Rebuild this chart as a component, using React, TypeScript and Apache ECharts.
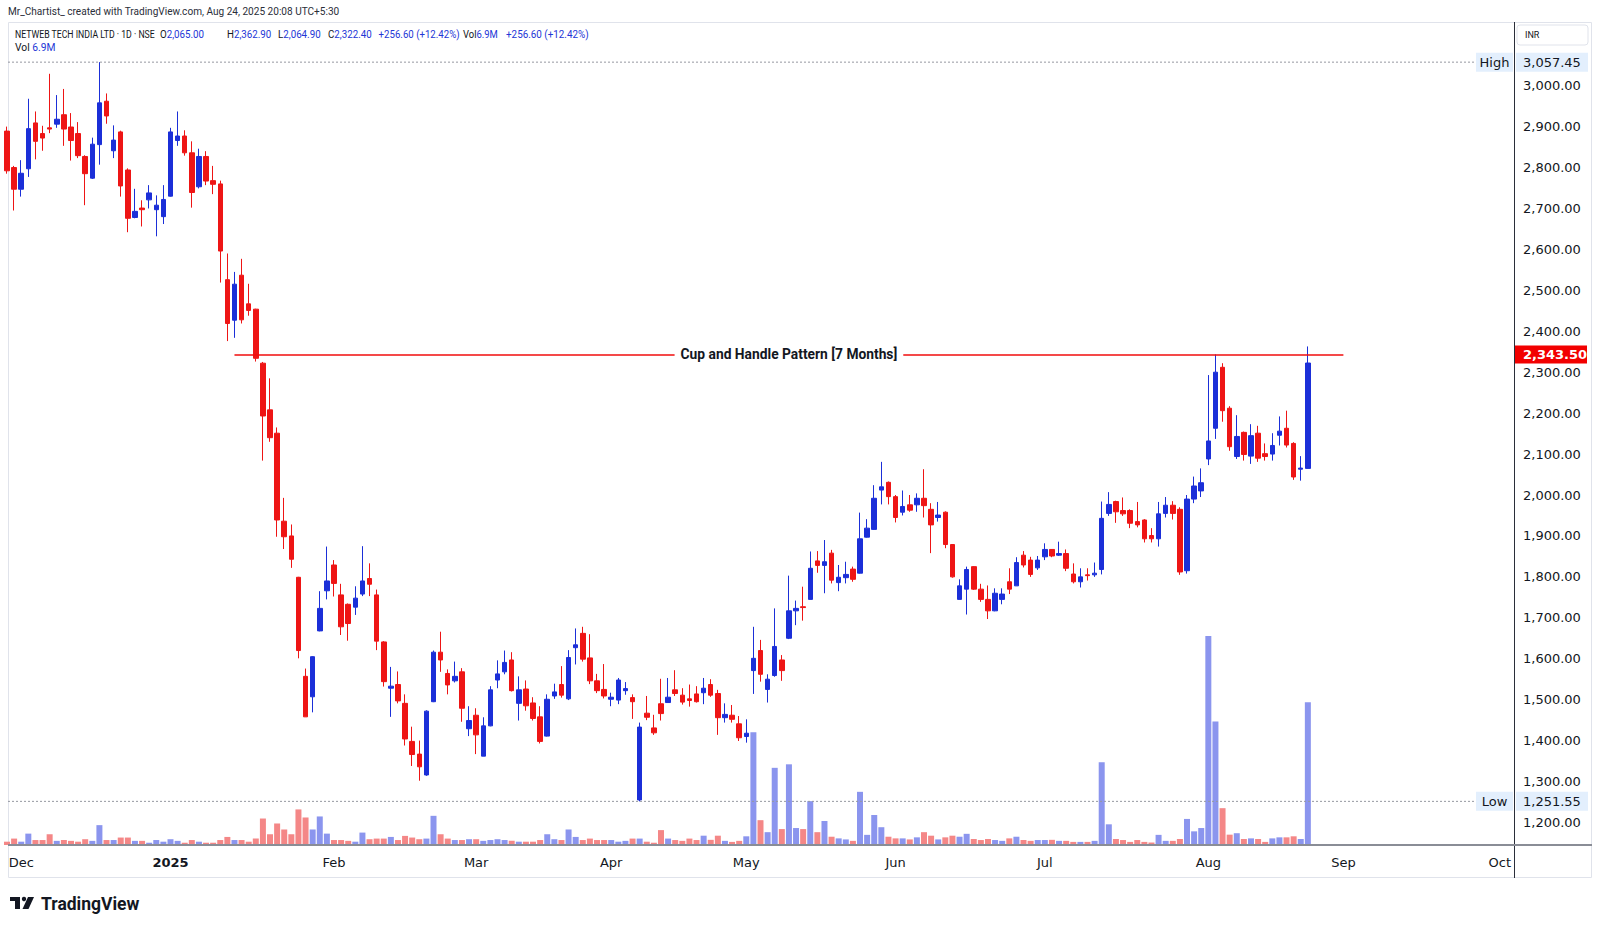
import React, { useEffect, useRef } from 'react';
import * as echarts from 'echarts';

// ---- OHLC data: [open, close, low, high] per trading day ----
const novBars = [[2889,2792,2785,2900],[2800,2747,2695,2804]];
const decBars = [
  [2747,2786,2729,2818],[2797,2895,2777,2968],[2909,2864,2820,2937],[2883,2872,2841,2902],
  [2897,2894,2884,3029],[2906,2918,2897,2977],[2929,2894,2853,2992],[2899,2866,2817,2933],
  [2883,2829,2823,2911],[2827,2785,2708,2830],[2774,2857,2772,2873],[2856,2958,2807,3057.45],
  [2962,2926,2907,2981],[2841,2867,2823,2903],[2887,2755,2729,2890],[2794,2676,2642,2798],
  [2678,2693,2676,2748],[2701,2697,2656,2720],[2721,2738,2700,2757],[2697,2708,2632,2732],
  [2680,2722,2662,2757]];
const janBars = [
  [2730,2887,2729,2897],[2866,2877,2853,2937],[2877,2836,2829,2891],[2836,2739,2702,2864],
  [2753,2827,2749,2846],[2827,2767,2757,2840],[2768,2759,2735,2804],[2760,2596,2519,2768],
  [2526,2419,2376,2590],[2427,2515,2384,2545],[2537,2428,2419,2577],[2467,2451,2438,2516],
  [2454,2334,2326,2455],[2322,2193,2084,2325],[2208,2140,2130,2285],[2151,1939,1898,2165],
  [1936,1898,1868,1993],[1900,1843,1822,1928],[1799,1620,1601,1800],[1557,1458,1458,1576],
  [1507,1605,1469,1606],[1668,1723,1667,1765],[1766,1790,1745,1874]];
const febBars = [
  [1829,1784,1752,1841],[1756,1678,1658,1783],[1733,1686,1644,1735],[1726,1748,1707,1777],
  [1758,1790,1753,1875],[1796,1782,1753,1833],[1756,1643,1621,1769],[1641,1544,1532,1643],
  [1528,1533,1458,1580],[1537,1497,1491,1569],[1491,1404,1388,1513],[1398,1366,1338,1434],
  [1367,1336,1302,1400],[1316,1472,1314,1474],[1495,1616,1494,1620],[1616,1597,1568,1666],
  [1564,1536,1513,1574],[1546,1557,1542,1593],[1568,1479,1446,1577],[1429,1449,1411,1484]];
const marBars = [
  [1462,1414,1367,1479],[1362,1436,1362,1457],[1436,1524,1435,1533],[1548,1563,1528,1596],
  [1568,1591,1562,1620],[1597,1522,1520,1616],[1491,1524,1449,1557],[1526,1485,1473,1547],
  [1492,1454,1449,1506],[1458,1398,1393,1484],[1411,1501,1410,1513],[1509,1519,1502,1539],
  [1537,1511,1505,1582],[1502,1603,1499,1621],[1627,1634,1586,1674],[1662,1599,1593,1678],
  [1602,1546,1538,1660],[1546,1522,1516,1563],[1525,1509,1503,1587]];
const aprBars = [
  [1501,1506,1484,1517],[1499,1548,1489,1553],[1522,1527,1512,1543],[1505,1495,1453,1513],
  [1255,1433,1251.55,1444],[1467,1457,1450,1509],[1431,1419,1414,1463],[1490,1466,1449,1551],
  [1493,1506,1493,1553],[1524,1515,1509,1572],[1511,1494,1488,1528],[1502,1498,1483,1537],
  [1514,1495,1493,1533],[1517,1528,1489,1553],[1537,1511,1507,1550],[1515,1456,1414,1524],
  [1456,1464,1444,1491],[1462,1452,1444,1487],[1441,1407,1399,1460]];
const mayBars = [
  [1410,1418,1395,1452],[1571,1601,1514,1678],[1620,1562,1544,1646],[1525,1550,1493,1562],
  [1559,1630,1556,1723],[1597,1571,1546,1609],[1650,1717,1648,1803],[1717,1723,1682,1742],
  [1727,1725,1693,1776],[1745,1821,1745,1862],[1839,1828,1810,1863],[1828,1837,1760,1890],
  [1858,1792,1784,1866],[1786,1799,1765,1829],[1798,1806,1784,1837],[1819,1794,1788,1825],
  [1809,1893,1808,1957],[1897,1919,1896,1941],[1916,1992,1915,2024],[2012,2020,1977,2081],
  [2031,1996,1977,2033]];
const junBars = [
  [1996,1945,1933,2000],[1958,1972,1950,2011],[1976,1963,1959,2000],[1976,1992,1959,2004],
  [1992,1974,1945,2063],[1965,1927,1858,1980],[1945,1951,1935,1983],[1958,1879,1870,1960],
  [1879,1800,1798,1880],[1745,1778,1745,1794],[1770,1818,1708,1825],[1825,1770,1768,1826],
  [1770,1745,1739,1783],[1745,1717,1697,1779],[1717,1760,1716,1772],[1745,1758,1733,1772],
  [1788,1770,1758,1821],[1778,1835,1778,1848],[1853,1829,1823,1863],[1841,1806,1800,1849],
  [1822,1841,1817,1851]];
const julBars = [
  [1849,1867,1841,1882],[1867,1851,1848,1868],[1853,1857,1851,1886],[1857,1821,1814,1867],
  [1807,1788,1784,1833],[1788,1800,1774,1821],[1805,1803,1791,1821],[1805,1809,1800,1835],
  [1818,1943,1806,1984],[1955,1977,1949,2007],[1984,1959,1932,1986],[1962,1954,1949,1994],
  [1962,1931,1919,1965],[1935,1927,1921,1983],[1939,1893,1884,1941],[1901,1893,1884,1919],
  [1893,1954,1874,1983],[1955,1975,1945,1995],[1975,1955,1940,1985],[1965,1812,1805,1970],
  [1815,1990,1808,2000],[1990,2022,1980,2045],[2010,2030,1995,2065]];
const augBars = [
  [2088,2132,2073,2293],[2163,2300,2137,2343.5],[2312,2206,2179,2322],[2212,2118,2108,2217],
  [2094,2143,2088,2195],[2153,2099,2084,2155],[2095,2145,2076,2173],[2151,2090,2081,2169],
  [2101,2094,2084,2126],[2100,2121,2084,2151],[2146,2156,2121,2192],[2163,2122,2116,2206],
  [2126,2044,2037,2129],[2063,2065.8,2035,2095],[2065,2322.4,2064.9,2362.9]];

// ---- Volume (millions) ----
const novVol = [0.16,0.31];
const decVol = [0.16,0.55,0.24,0.24,0.52,0.2,0.24,0.2,0.16,0.28,0.2,0.96,0.24,0.24,0.36,0.36,0.2,0.2,0.11,0.24,0.16];
const janVol = [0.28,0.2,0.11,0.24,0.16,0.11,0.11,0.24,0.39,0.24,0.24,0.16,0.31,1.28,0.52,1.04,0.75,0.52,1.72,1.33,0.75,1.38,0.55];
const febVol = [0.24,0.24,0.2,0.16,0.6,0.28,0.31,0.31,0.39,0.24,0.44,0.36,0.28,0.31,1.41,0.52,0.31,0.24,0.24,0.28];
const marVol = [0.28,0.2,0.24,0.28,0.24,0.2,0.16,0.16,0.16,0.24,0.52,0.28,0.24,0.75,0.39,0.24,0.31,0.24,0.24];
const aprVol = [0.24,0.16,0.2,0.31,0.31,0.16,0.11,0.72,0.31,0.24,0.2,0.31,0.24,0.45,0.25,0.45,0.2,0.15,0.2];
const mayVol = [0.42,5.45,1.2,0.62,3.73,0.77,3.9,0.82,0.77,2.12,0.62,1.16,0.4,0.32,0.27,0.2,2.57,0.49,1.45,0.86,0.4];
const junVol = [0.32,0.32,0.27,0.37,0.62,0.45,0.27,0.37,0.45,0.4,0.54,0.29,0.24,0.29,0.24,0.2,0.32,0.4,0.24,0.2,0.24];
const julVol = [0.24,0.25,0.2,0.2,0.15,0.15,0.15,0.2,4.0,1.0,0.29,0.24,0.15,0.24,0.15,0.12,0.49,0.2,0.2,0.29,1.26,0.66,0.82];
const augVol = [10.1,5.97,1.78,0.5,0.57,0.29,0.32,0.29,0.15,0.32,0.37,0.37,0.42,0.29,6.9];

// ---- Time axis ticks (bar slot index -> label) ----
const monthTickIdx = [2, 23, 46, 66, 85, 104, 125, 146, 169, 188, 210];
const monthTickText = ['Dec', '2025', 'Feb', 'Mar', 'Apr', 'May', 'Jun', 'Jul', 'Aug', 'Sep', 'Oct'];
const totalSlots = 213;

// ---- Annotations ----
const patternLevel = 2343.5;
const patternStartIdx = 32;
const patternEndIdx = 188;
const patternText = 'Cup and Handle Pattern [7 Months]';
const highValue = 3057.45;
const lowValue = 1251.55;

const UP = '#1b2fd8';
const DOWN = '#ee1515';
const VUP = '#8b95ee';
const VDOWN = '#f48787';
const TXT = '#131722';
const FONT_AXIS = '"DejaVu Sans", Verdana, sans-serif';
const FONT_UI = 'Roboto, "Noto Sans", sans-serif';

const fmt = (v: number) => v.toLocaleString('en-US', { minimumFractionDigits: 2, maximumFractionDigits: 2 });

export default function App() {
  const ref = useRef<HTMLDivElement>(null);
  useEffect(() => {
    document.body.style.margin = '0';
    const candles = [...novBars, ...decBars, ...janBars, ...febBars, ...marBars, ...aprBars, ...mayBars, ...junBars, ...julBars, ...augBars];
    const vols = [...novVol, ...decVol, ...janVol, ...febVol, ...marVol, ...aprVol, ...mayVol, ...junVol, ...julVol, ...augVol];
    const categories = Array.from({ length: totalSlots }, (_, i) => String(i));
    const tickMap = new Map<number, string>();
    monthTickIdx.forEach((k, j) => tickMap.set(k, monthTickText[j]));

    const chart = echarts.init(ref.current!, null, { renderer: 'svg' });
    const option: any = {
      animation: false,
      backgroundColor: '#ffffff',
      grid: [
        { left: 7, right: 86, top: 3.8, height: 859.6 },
        { left: 7, right: 86, top: 545, height: 300 },
      ],
      xAxis: [
        { type: 'category', gridIndex: 0, data: categories, boundaryGap: false, axisLine: { show: false }, axisTick: { show: false }, axisLabel: { show: false }, splitLine: { show: false } },
        {
          type: 'category', gridIndex: 1, data: categories, boundaryGap: false,
          axisLine: { show: false }, axisTick: { show: false }, splitLine: { show: false },
          axisLabel: {
            show: true, margin: 11, color: TXT, fontSize: 13, fontFamily: FONT_AXIS,
            interval: (i: number) => tickMap.has(i),
            formatter: (_v: string, i: number) => {
              const t = tickMap.get(i) || '';
              return t === '2025' ? '{b|2025}' : t;
            },
            rich: { b: { fontWeight: 'bold', fontSize: 13, fontFamily: FONT_AXIS, color: TXT } },
          },
        },
      ],
      yAxis: [
        {
          type: 'value', gridIndex: 0, position: 'right', min: 1100, max: 3200, interval: 100,
          axisLine: { show: false }, axisTick: { show: false }, splitLine: { show: false },
          axisLabel: { margin: 9, color: TXT, fontSize: 13, fontFamily: FONT_AXIS, formatter: (v: number) => (v >= 1200 && v <= 3000 ? fmt(v) : '') },
        },
        { type: 'value', gridIndex: 1, min: 0, max: 14.5, show: false, splitLine: { show: false } },
      ],
      series: [
        {
          type: 'bar', xAxisIndex: 1, yAxisIndex: 1, barWidth: 6,
          data: vols.map((v, i) => ({ value: v, itemStyle: { color: candles[i][1] >= candles[i][0] ? VUP : VDOWN } })),
        },
        {
          type: 'candlestick', xAxisIndex: 0, yAxisIndex: 0, barWidth: 5,
          data: candles,
          itemStyle: { color: UP, color0: DOWN, borderColor: UP, borderColor0: DOWN, borderWidth: 1 },
          markLine: {
            silent: true, symbol: ['none', 'none'], animation: false,
            label: { show: false },
            lineStyle: { color: '#f00d0d', width: 1.6, type: 'solid' },
            data: [[{ coord: [String(patternStartIdx), patternLevel] }, { coord: [String(patternEndIdx), patternLevel] }]],
          },
        },
      ],
    };
    chart.setOption(option);

    const yOf = (p: number) => chart.convertToPixel({ yAxisIndex: 0 }, p) as number;
    const xOf = (i: number) => chart.convertToPixel({ xAxisIndex: 0 }, String(i)) as number;
    const yH = yOf(highValue);
    const yL = yOf(lowValue);
    const yP = yOf(patternLevel);
    const xMid = (xOf(patternStartIdx) + xOf(patternEndIdx)) / 2;

    const hdr = (x: number, y: number, parts: [string, string][], sx = 0.93, size = 10.5) => ({
      type: 'text', x, y, scaleX: sx, z: 10,
      style: {
        text: parts.map((p, k) => `{s${k}|${p[0]}}`).join(''),
        rich: Object.fromEntries(parts.map((p, k) => [`s${k}`, { fill: p[1], fontSize: size, fontFamily: FONT_UI }])),
        verticalAlign: 'middle', align: 'left', fontSize: size, fontFamily: FONT_UI,
      },
    });
    const BLUE = '#2336d6';

    const graphic: any[] = [
      { type: 'rect', shape: { x: 8.5, y: 22.5, width: 1583, height: 855 }, style: { fill: 'none', stroke: '#e0e3eb', lineWidth: 1 }, z: 1 },
      { type: 'line', shape: { x1: 1514.5, y1: 22, x2: 1514.5, y2: 878 }, style: { stroke: '#2a2e39', lineWidth: 1 }, z: 5 },
      { type: 'line', shape: { x1: 8, y1: 845, x2: 1592, y2: 845 }, style: { stroke: '#8a8d96', lineWidth: 2 }, z: 5 },
      // High
      { type: 'line', shape: { x1: 8, y1: yH, x2: 1476, y2: yH }, style: { stroke: '#9598a1', lineWidth: 1, lineDash: [2, 2] }, z: 4 },
      { type: 'rect', shape: { x: 1476, y: yH - 9.5, width: 37, height: 19 }, style: { fill: '#e3effd' }, z: 6 },
      { type: 'text', x: 1494.5, y: yH, z: 7, style: { text: 'High', fill: TXT, fontSize: 13, fontFamily: FONT_AXIS, align: 'center', verticalAlign: 'middle' } },
      { type: 'rect', shape: { x: 1516, y: yH - 9.5, width: 72, height: 19 }, style: { fill: '#e3effd' }, z: 6 },
      { type: 'text', x: 1523, y: yH, z: 7, style: { text: fmt(highValue), fill: TXT, fontSize: 13, fontFamily: FONT_AXIS, align: 'left', verticalAlign: 'middle' } },
      // Low
      { type: 'line', shape: { x1: 8, y1: yL, x2: 1476, y2: yL }, style: { stroke: '#9598a1', lineWidth: 1, lineDash: [2, 2] }, z: 4 },
      { type: 'rect', shape: { x: 1476, y: yL - 9.5, width: 37, height: 19 }, style: { fill: '#e3effd' }, z: 6 },
      { type: 'text', x: 1494.5, y: yL, z: 7, style: { text: 'Low', fill: TXT, fontSize: 13, fontFamily: FONT_AXIS, align: 'center', verticalAlign: 'middle' } },
      { type: 'rect', shape: { x: 1516, y: yL - 9.5, width: 72, height: 19 }, style: { fill: '#e3effd' }, z: 6 },
      { type: 'text', x: 1523, y: yL, z: 7, style: { text: fmt(lowValue), fill: TXT, fontSize: 13, fontFamily: FONT_AXIS, align: 'left', verticalAlign: 'middle' } },
      // Pattern price tag
      { type: 'rect', shape: { x: 1515, y: yP - 9, width: 72, height: 18 }, style: { fill: '#f20000' }, z: 6 },
      { type: 'text', x: 1523, y: yP, z: 7, style: { text: fmt(patternLevel), fill: '#ffffff', fontSize: 13, fontWeight: 'bold', fontFamily: FONT_AXIS, align: 'left', verticalAlign: 'middle' } },
      // Pattern label
      { type: 'text', x: xMid, y: yP, z: 7, style: { text: patternText, fill: TXT, fontSize: 13.8, fontWeight: 'bold', fontFamily: FONT_UI, align: 'center', verticalAlign: 'middle', backgroundColor: '#ffffff', padding: [2, 6] } },
      // INR box
      { type: 'rect', shape: { x: 1517, y: 25, width: 71, height: 20, r: 3 }, style: { fill: '#ffffff', stroke: '#e0e3eb', lineWidth: 1 }, z: 6 },
      { type: 'text', x: 1525, y: 35, z: 7, style: { text: 'INR', fill: TXT, fontSize: 9, fontFamily: FONT_UI, align: 'left', verticalAlign: 'middle' } },
      // Header
      hdr(8, 11.5, [['Mr_Chartist_ created with TradingView.com, Aug 24, 2025 20:08 UTC+5:30', '#2a2e39']], 0.96),
      hdr(15, 34, [['NETWEB TECH INDIA LTD · 1D · NSE', TXT]], 0.83),
      hdr(160, 34, [['O', TXT], ['2,065.00', BLUE]]),
      hdr(227, 34, [['H', TXT], ['2,362.90', BLUE]]),
      hdr(278, 34, [['L', TXT], ['2,064.90', BLUE]]),
      hdr(328, 34, [['C', TXT], ['2,322.40', BLUE]]),
      hdr(378.6, 34, [['+256.60 (+12.42%)', BLUE]], 0.92),
      hdr(463, 34, [['Vol', TXT], ['6.9M', BLUE]], 0.9),
      hdr(506, 34, [['+256.60 (+12.42%)', BLUE]], 0.94),
      hdr(15, 47, [['Vol ', TXT], ['6.9M', BLUE]], 0.98),
      // TradingView logo
      { type: 'rect', shape: { x: 10, y: 897, width: 10, height: 4 }, style: { fill: TXT }, z: 7 },
      { type: 'rect', shape: { x: 15, y: 897, width: 5, height: 12 }, style: { fill: TXT }, z: 7 },
      { type: 'circle', shape: { cx: 24, cy: 899, r: 2.2 }, style: { fill: TXT }, z: 7 },
      { type: 'polygon', shape: { points: [[28, 897], [34, 897], [28.5, 909], [22.5, 909]] }, style: { fill: TXT }, z: 7 },
      { type: 'text', x: 41, y: 903.5, z: 7, style: { text: 'TradingView', fill: TXT, fontSize: 17.5, fontWeight: 'bold', fontFamily: FONT_UI, align: 'left', verticalAlign: 'middle' } },
    ];
    chart.setOption({ graphic });
    return () => chart.dispose();
  }, []);
  return <div ref={ref} style={{ position: 'fixed', left: 0, top: 0, width: 1600, height: 927, background: '#ffffff' }} />;
}
